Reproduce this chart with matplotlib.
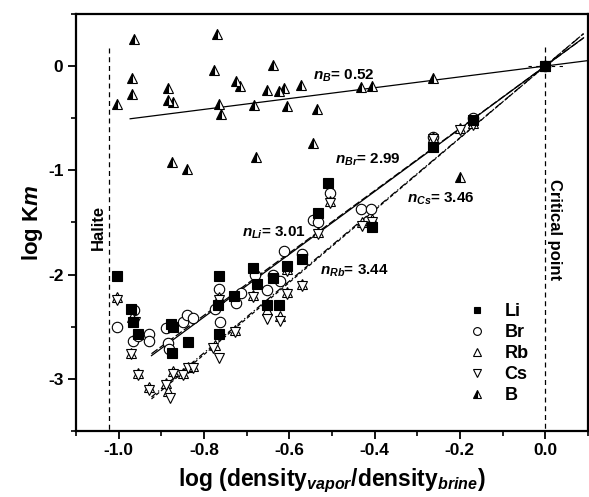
import numpy as np
import matplotlib.pyplot as plt

plt.rcParams['font.family'] = ['Liberation Sans', 'DejaVu Sans']
plt.rcParams['font.weight'] = 'bold'
plt.rcParams['axes.labelweight'] = 'bold'
plt.rcParams['mathtext.fontset'] = 'custom'
plt.rcParams['mathtext.it'] = 'Liberation Sans:italic:bold'
plt.rcParams['mathtext.rm'] = 'Liberation Sans:bold'
plt.rcParams['mathtext.bf'] = 'Liberation Sans:bold'

# data: log(density ratio), log Km
li_x = [-1.004, -0.971, -0.966, -0.955, -0.877, -0.873, -0.875, -0.838, -0.765, -0.765,
        -0.767, -0.73, -0.685, -0.676, -0.638, -0.652, -0.624, -0.606, -0.57, -0.533,
        -0.508, -0.406, -0.263, -0.17, 0.0]
li_y = [-2.01, -2.33, -2.46, -2.57, -2.47, -2.50, -2.75, -2.65, -2.01, -2.57,
        -2.29, -2.21, -1.94, -2.09, -2.03, -2.29, -2.29, -1.92, -1.85, -1.41,
        -1.12, -1.545, -0.78, -0.52, 0.0]

br_x = [-1.004, -0.964, -0.966, -0.955, -0.929, -0.929, -0.889, -0.884, -0.882, -0.849,
        -0.84, -0.826, -0.774, -0.765, -0.763, -0.725, -0.713, -0.68, -0.652, -0.638,
        -0.622, -0.613, -0.57, -0.545, -0.533, -0.505, -0.432, -0.409, -0.263, -0.17, 0.0]
br_y = [-2.50, -2.34, -2.64, -2.59, -2.57, -2.64, -2.51, -2.66, -2.71, -2.46,
        -2.39, -2.42, -2.33, -2.14, -2.46, -2.27, -2.18, -2.0, -2.15, -2.0,
        -2.06, -1.77, -1.80, -1.48, -1.50, -1.22, -1.37, -1.37, -0.68, -0.50, 0.0]

rb_x = [-1.004, -0.969, -0.971, -0.955, -0.929, -0.889, -0.884, -0.873, -0.849, -0.838,
        -0.826, -0.774, -0.765, -0.727, -0.685, -0.652, -0.622, -0.606, -0.606, -0.57,
        -0.533, -0.505, -0.43, -0.406, -0.263, -0.2, -0.17, 0.0]
rb_y = [-2.22, -2.41, -2.75, -2.945, -3.08, -3.04, -3.12, -2.93, -2.945, -2.89,
        -2.88, -2.68, -2.22, -2.53, -2.20, -2.34, -2.40, -1.95, -2.17, -2.09,
        -1.59, -1.29, -1.50, -1.47, -0.68, -0.59, -0.55, 0.0]

cs_x = [-1.004, -0.962, -0.971, -0.955, -0.929, -0.889, -0.88, -0.873, -0.849, -0.838,
        -0.826, -0.779, -0.765, -0.765, -0.727, -0.685, -0.652, -0.622, -0.606, -0.606,
        -0.57, -0.533, -0.505, -0.43, -0.406, -0.263, -0.2, -0.17, 0.0]
cs_y = [-2.24, -2.46, -2.76, -2.96, -3.11, -3.06, -3.18, -2.95, -2.96, -2.90,
        -2.90, -2.70, -2.80, -2.24, -2.55, -2.22, -2.43, -2.45, -1.97, -2.19,
        -2.11, -1.61, -1.31, -1.53, -1.50, -0.70, -0.61, -0.57, 0.0]

b_x = [-0.964, -1.004, -0.969, -0.969, -0.884, -0.884, -0.873, -0.875, -0.84, -0.77,
       -0.777, -0.765, -0.76, -0.725, -0.716, -0.678, -0.683, -0.638, -0.652, -0.624,
       -0.613, -0.606, -0.573, -0.535, -0.545, -0.432, -0.406, -0.263, -0.2]
b_y = [0.26, -0.364, -0.114, -0.268, -0.21, -0.325, -0.345, -0.92, -0.99, 0.31,
       -0.037, -0.364, -0.46, -0.143, -0.19, -0.872, -0.373, 0.01, -0.23, -0.24,
       -0.21, -0.383, -0.18, -0.41, -0.74, -0.20, -0.19, -0.116, -1.06]

# fitted slopes (lines through the critical point)
slopes = {'Li': 3.01, 'Br': 2.99, 'Rb': 3.44, 'Cs': 3.46, 'B': 0.52}
fit_x0 = {'Li': -0.923, 'Br': -0.923, 'Rb': -0.923, 'Cs': -0.923, 'B': -0.973}
fit_x1 = {'Li': 0.09, 'Br': 0.09, 'Rb': 0.09, 'Cs': 0.09, 'B': 0.1}

fig = plt.figure(figsize=(5.89, 4.97), dpi=100)
ax = fig.add_axes([0.129, 0.133, 0.869, 0.839])

styles = {'Li': '-', 'Br': (0, (6, 2)), 'Rb': (0, (5, 2, 1, 2)), 'Cs': (0, (3, 2)), 'B': '-'}
for k in ['Li', 'Br', 'Rb', 'Cs', 'B']:
    xx = np.array([fit_x0[k], fit_x1[k]])
    ax.plot(xx, slopes[k] * xx, color='black', lw=0.9, ls=styles[k], zorder=2)

ax.plot(br_x, br_y, 'o', ms=7.5, mfc='white', mec='black', mew=0.8, ls='none', label='Br', zorder=3)
ax.plot(rb_x, rb_y, '^', ms=7.5, mfc='white', mec='black', mew=0.8, ls='none', label='Rb', zorder=3)
ax.plot(cs_x, cs_y, 'v', ms=7.5, mfc='white', mec='black', mew=0.8, ls='none', label='Cs', zorder=3)
ax.plot(b_x, b_y, '^', ms=7.5, fillstyle='left', mfc='black', mfcalt='white', mec='black',
        mew=0.8, ls='none', label='B', zorder=3)
ax.plot(li_x, li_y, 's', ms=6.5, mfc='black', mec='black', mew=0.8, ls='none', label='Li', zorder=4)

# halite and critical point boundaries
ax.plot([-1.023, -1.023], [0.17, -3.5], color='black', lw=0.9, ls=(0, (4, 3)))
ax.plot([0.0, 0.0], [0.18, -3.5], color='black', lw=0.9, ls=(0, (4, 3)))
ax.plot([-0.04, 0.045], [0.0, 0.0], color='black', lw=0.8, ls=(0, (3, 4)))

ax.text(-1.048, -1.55, 'Halite', rotation=90, ha='center', va='center', fontsize=12)
ax.text(0.023, -1.57, 'Critical point', rotation=-90, ha='center', va='center', fontsize=12)

ax.text(-0.545, -0.09, r'$n_{B}$= 0.52', fontsize=11, va='center')
ax.text(-0.493, -0.90, r'$n_{Br}$= 2.99', fontsize=11, va='center')
ax.text(-0.324, -1.27, r'$n_{Cs}$= 3.46', fontsize=11, va='center')
ax.text(-0.711, -1.60, r'$n_{Li}$= 3.01', fontsize=11, va='center')
ax.text(-0.528, -1.96, r'$n_{Rb}$= 3.44', fontsize=11, va='center')

h, l = ax.get_legend_handles_labels()
order = [4, 0, 1, 2, 3]
ax.legend([h[i] for i in order], [l[i] for i in order], loc='upper left',
          bbox_to_anchor=(0.735, 0.345), frameon=False, fontsize=13,
          handlelength=1.0, handletextpad=1.0, labelspacing=0.22, markerscale=0.75)

ax.set_xlim(-1.1, 0.1)
ax.set_ylim(-3.5, 0.5)
ax.set_xticks([-1.0, -0.8, -0.6, -0.4, -0.2, 0.0])
ax.set_xticks(np.arange(-1.1, 0.11, 0.1), minor=True)
ax.set_yticks([0, -1, -2, -3])
ax.set_yticks([0.5, -0.5, -1.5, -2.5, -3.5], minor=True)
ax.set_xticklabels(['-1.0', '-0.8', '-0.6', '-0.4', '-0.2', '0.0'], fontweight='bold')
ax.set_yticklabels(['0', '-1', '-2', '-3'], fontweight='bold')
ax.tick_params(which='major', direction='out', length=6, width=1.3, labelsize=12.5, pad=3)
ax.tick_params(which='minor', direction='out', length=3.5, width=1.2)
for s in ax.spines.values():
    s.set_linewidth(1.6)

ax.set_xlabel(r'log (density$_{vapor}$/density$_{brine}$)', fontsize=16.5, fontweight='bold', labelpad=6)
ax.set_ylabel(r'log K$m$', fontsize=16, fontweight='bold', labelpad=2)

fig.savefig('out.png', dpi=100)
